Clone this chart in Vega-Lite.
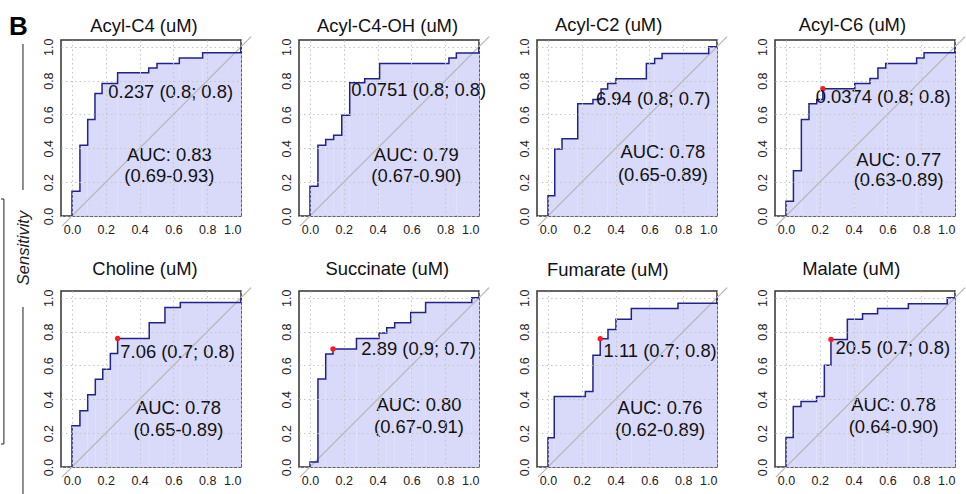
{
  "$schema": "https://vega.github.io/schema/vega-lite/v6.json",
  "background": "white",
  "padding": {"left": 0, "top": 13, "right": 0, "bottom": 0},
  "config": {
    "font": "Liberation Sans",
    "view": {"stroke": "#333333", "strokeWidth": 1.5},
    "concat": {"spacing": 4},
    "headerFacet": {"labels": false, "title": null, "labelPadding": 0, "labelFontSize": 1, "labelExpr": "''"}
  },
  "datasets": {
    "side": [
      {"k": "B", "x": 0.22, "y": -0.0102, "label": "B"},
      {"k": "S", "x": 0.63, "y": 0.4245, "label": "Sensitivity"},
      {"k": "r", "x": 0.61, "y": 0.0082, "x2": 0.61, "y2": 0.306},
      {"k": "r", "x": 0.61, "y": 0.545, "x2": 0.61, "y2": 0.95},
      {"k": "r", "x": 0.08, "y": 0.3245, "x2": 0.08, "y2": 0.8245},
      {"k": "r", "x": 0.0, "y": 0.3245, "x2": 0.08, "y2": 0.3245},
      {"k": "r", "x": 0.0, "y": 0.8245, "x2": 0.08, "y2": 0.8245}
    ],
    "roc": [
      {"p": "Acyl-C4 (uM)", "t": "c", "i": 0, "x": 0, "y": 0},
      {"p": "Acyl-C4 (uM)", "t": "c", "i": 1, "x": 0, "y": 0.146},
      {"p": "Acyl-C4 (uM)", "t": "c", "i": 2, "x": 0.047, "y": 0.418},
      {"p": "Acyl-C4 (uM)", "t": "c", "i": 3, "x": 0.093, "y": 0.57},
      {"p": "Acyl-C4 (uM)", "t": "c", "i": 4, "x": 0.136, "y": 0.724},
      {"p": "Acyl-C4 (uM)", "t": "c", "i": 5, "x": 0.178, "y": 0.783},
      {"p": "Acyl-C4 (uM)", "t": "c", "i": 6, "x": 0.27, "y": 0.846},
      {"p": "Acyl-C4 (uM)", "t": "c", "i": 7, "x": 0.454, "y": 0.874},
      {"p": "Acyl-C4 (uM)", "t": "c", "i": 8, "x": 0.503, "y": 0.901},
      {"p": "Acyl-C4 (uM)", "t": "c", "i": 9, "x": 0.635, "y": 0.933},
      {"p": "Acyl-C4 (uM)", "t": "c", "i": 10, "x": 0.773, "y": 0.964},
      {"p": "Acyl-C4 (uM)", "t": "c", "i": 11, "x": 1.0, "y": 1.0},

      {"p": "Acyl-C4-OH (uM)", "t": "c", "i": 0, "x": 0, "y": 0},
      {"p": "Acyl-C4-OH (uM)", "t": "c", "i": 1, "x": 0, "y": 0.176},
      {"p": "Acyl-C4-OH (uM)", "t": "c", "i": 2, "x": 0.047, "y": 0.418},
      {"p": "Acyl-C4-OH (uM)", "t": "c", "i": 3, "x": 0.093, "y": 0.452},
      {"p": "Acyl-C4-OH (uM)", "t": "c", "i": 4, "x": 0.14, "y": 0.477},
      {"p": "Acyl-C4-OH (uM)", "t": "c", "i": 5, "x": 0.188, "y": 0.596},
      {"p": "Acyl-C4-OH (uM)", "t": "c", "i": 6, "x": 0.235, "y": 0.787},
      {"p": "Acyl-C4-OH (uM)", "t": "c", "i": 7, "x": 0.324, "y": 0.811},
      {"p": "Acyl-C4-OH (uM)", "t": "c", "i": 8, "x": 0.412, "y": 0.901},
      {"p": "Acyl-C4-OH (uM)", "t": "c", "i": 9, "x": 0.822, "y": 0.933},
      {"p": "Acyl-C4-OH (uM)", "t": "c", "i": 10, "x": 0.866, "y": 0.963},
      {"p": "Acyl-C4-OH (uM)", "t": "c", "i": 11, "x": 1.0, "y": 1.0},

      {"p": "Acyl-C2 (uM)", "t": "c", "i": 0, "x": 0, "y": 0},
      {"p": "Acyl-C2 (uM)", "t": "c", "i": 1, "x": 0, "y": 0.12},
      {"p": "Acyl-C2 (uM)", "t": "c", "i": 2, "x": 0.04, "y": 0.396},
      {"p": "Acyl-C2 (uM)", "t": "c", "i": 3, "x": 0.083, "y": 0.456},
      {"p": "Acyl-C2 (uM)", "t": "c", "i": 4, "x": 0.176, "y": 0.663},
      {"p": "Acyl-C2 (uM)", "t": "c", "i": 5, "x": 0.266, "y": 0.688},
      {"p": "Acyl-C2 (uM)", "t": "c", "i": 6, "x": 0.314, "y": 0.751},
      {"p": "Acyl-C2 (uM)", "t": "c", "i": 7, "x": 0.353, "y": 0.783},
      {"p": "Acyl-C2 (uM)", "t": "c", "i": 8, "x": 0.402, "y": 0.811},
      {"p": "Acyl-C2 (uM)", "t": "c", "i": 9, "x": 0.582, "y": 0.901},
      {"p": "Acyl-C2 (uM)", "t": "c", "i": 10, "x": 0.631, "y": 0.931},
      {"p": "Acyl-C2 (uM)", "t": "c", "i": 11, "x": 0.675, "y": 0.96},
      {"p": "Acyl-C2 (uM)", "t": "c", "i": 12, "x": 0.951, "y": 1.0},
      {"p": "Acyl-C2 (uM)", "t": "c", "i": 13, "x": 1.0, "y": 1.0},

      {"p": "Acyl-C6 (uM)", "t": "c", "i": 0, "x": 0, "y": 0},
      {"p": "Acyl-C6 (uM)", "t": "c", "i": 1, "x": 0, "y": 0.087},
      {"p": "Acyl-C6 (uM)", "t": "c", "i": 2, "x": 0.044, "y": 0.268},
      {"p": "Acyl-C6 (uM)", "t": "c", "i": 3, "x": 0.091, "y": 0.57},
      {"p": "Acyl-C6 (uM)", "t": "c", "i": 4, "x": 0.136, "y": 0.663},
      {"p": "Acyl-C6 (uM)", "t": "c", "i": 5, "x": 0.182, "y": 0.688},
      {"p": "Acyl-C6 (uM)", "t": "c", "i": 6, "x": 0.218, "y": 0.752},
      {"p": "Acyl-C6 (uM)", "t": "c", "i": 7, "x": 0.407, "y": 0.783},
      {"p": "Acyl-C6 (uM)", "t": "c", "i": 8, "x": 0.497, "y": 0.812},
      {"p": "Acyl-C6 (uM)", "t": "c", "i": 9, "x": 0.544, "y": 0.874},
      {"p": "Acyl-C6 (uM)", "t": "c", "i": 10, "x": 0.59, "y": 0.901},
      {"p": "Acyl-C6 (uM)", "t": "c", "i": 11, "x": 0.773, "y": 0.933},
      {"p": "Acyl-C6 (uM)", "t": "c", "i": 12, "x": 0.817, "y": 0.964},
      {"p": "Acyl-C6 (uM)", "t": "c", "i": 13, "x": 1.0, "y": 1.0},

      {"p": "Choline (uM)", "t": "c", "i": 0, "x": 0, "y": 0},
      {"p": "Choline (uM)", "t": "c", "i": 1, "x": 0, "y": 0.244},
      {"p": "Choline (uM)", "t": "c", "i": 2, "x": 0.047, "y": 0.333},
      {"p": "Choline (uM)", "t": "c", "i": 3, "x": 0.093, "y": 0.427},
      {"p": "Choline (uM)", "t": "c", "i": 4, "x": 0.138, "y": 0.518},
      {"p": "Choline (uM)", "t": "c", "i": 5, "x": 0.182, "y": 0.577},
      {"p": "Choline (uM)", "t": "c", "i": 6, "x": 0.227, "y": 0.671},
      {"p": "Choline (uM)", "t": "c", "i": 7, "x": 0.27, "y": 0.76},
      {"p": "Choline (uM)", "t": "c", "i": 8, "x": 0.457, "y": 0.853},
      {"p": "Choline (uM)", "t": "c", "i": 9, "x": 0.55, "y": 0.942},
      {"p": "Choline (uM)", "t": "c", "i": 10, "x": 0.641, "y": 0.972},
      {"p": "Choline (uM)", "t": "c", "i": 11, "x": 1.0, "y": 1.0},

      {"p": "Succinate (uM)", "t": "c", "i": 0, "x": 0, "y": 0},
      {"p": "Succinate (uM)", "t": "c", "i": 1, "x": 0, "y": 0.03},
      {"p": "Succinate (uM)", "t": "c", "i": 2, "x": 0.047, "y": 0.52},
      {"p": "Succinate (uM)", "t": "c", "i": 3, "x": 0.093, "y": 0.668},
      {"p": "Succinate (uM)", "t": "c", "i": 4, "x": 0.136, "y": 0.698},
      {"p": "Succinate (uM)", "t": "c", "i": 5, "x": 0.275, "y": 0.76},
      {"p": "Succinate (uM)", "t": "c", "i": 6, "x": 0.408, "y": 0.792},
      {"p": "Succinate (uM)", "t": "c", "i": 7, "x": 0.454, "y": 0.823},
      {"p": "Succinate (uM)", "t": "c", "i": 8, "x": 0.501, "y": 0.853},
      {"p": "Succinate (uM)", "t": "c", "i": 9, "x": 0.596, "y": 0.913},
      {"p": "Succinate (uM)", "t": "c", "i": 10, "x": 0.684, "y": 0.972},
      {"p": "Succinate (uM)", "t": "c", "i": 11, "x": 0.957, "y": 1.0},
      {"p": "Succinate (uM)", "t": "c", "i": 12, "x": 1.0, "y": 1.0},

      {"p": "Fumarate (uM)", "t": "c", "i": 0, "x": 0, "y": 0},
      {"p": "Fumarate (uM)", "t": "c", "i": 1, "x": 0, "y": 0.173},
      {"p": "Fumarate (uM)", "t": "c", "i": 2, "x": 0.037, "y": 0.417},
      {"p": "Fumarate (uM)", "t": "c", "i": 3, "x": 0.221, "y": 0.446},
      {"p": "Fumarate (uM)", "t": "c", "i": 4, "x": 0.266, "y": 0.661},
      {"p": "Fumarate (uM)", "t": "c", "i": 5, "x": 0.309, "y": 0.758},
      {"p": "Fumarate (uM)", "t": "c", "i": 6, "x": 0.355, "y": 0.813},
      {"p": "Fumarate (uM)", "t": "c", "i": 7, "x": 0.402, "y": 0.873},
      {"p": "Fumarate (uM)", "t": "c", "i": 8, "x": 0.493, "y": 0.936},
      {"p": "Fumarate (uM)", "t": "c", "i": 9, "x": 0.769, "y": 0.968},
      {"p": "Fumarate (uM)", "t": "c", "i": 10, "x": 1.0, "y": 1.0},

      {"p": "Malate (uM)", "t": "c", "i": 0, "x": 0, "y": 0},
      {"p": "Malate (uM)", "t": "c", "i": 1, "x": 0, "y": 0.175},
      {"p": "Malate (uM)", "t": "c", "i": 2, "x": 0.043, "y": 0.357},
      {"p": "Malate (uM)", "t": "c", "i": 3, "x": 0.089, "y": 0.387},
      {"p": "Malate (uM)", "t": "c", "i": 4, "x": 0.181, "y": 0.417},
      {"p": "Malate (uM)", "t": "c", "i": 5, "x": 0.227, "y": 0.601},
      {"p": "Malate (uM)", "t": "c", "i": 6, "x": 0.266, "y": 0.754},
      {"p": "Malate (uM)", "t": "c", "i": 7, "x": 0.363, "y": 0.873},
      {"p": "Malate (uM)", "t": "c", "i": 8, "x": 0.453, "y": 0.906},
      {"p": "Malate (uM)", "t": "c", "i": 9, "x": 0.542, "y": 0.936},
      {"p": "Malate (uM)", "t": "c", "i": 10, "x": 0.724, "y": 0.965},
      {"p": "Malate (uM)", "t": "c", "i": 11, "x": 0.954, "y": 1.0},
      {"p": "Malate (uM)", "t": "c", "i": 12, "x": 1.0, "y": 1.0},

      {"p": "Acyl-C4 (uM)", "t": "d", "x": -0.06, "y": -0.06, "x2": 1.06, "y2": 1.06},
      {"p": "Acyl-C4-OH (uM)", "t": "d", "x": -0.06, "y": -0.06, "x2": 1.06, "y2": 1.06},
      {"p": "Acyl-C2 (uM)", "t": "d", "x": -0.06, "y": -0.06, "x2": 1.06, "y2": 1.06},
      {"p": "Acyl-C6 (uM)", "t": "d", "x": -0.06, "y": -0.06, "x2": 1.06, "y2": 1.06},
      {"p": "Choline (uM)", "t": "d", "x": -0.06, "y": -0.06, "x2": 1.06, "y2": 1.06},
      {"p": "Succinate (uM)", "t": "d", "x": -0.06, "y": -0.06, "x2": 1.06, "y2": 1.06},
      {"p": "Fumarate (uM)", "t": "d", "x": -0.06, "y": -0.06, "x2": 1.06, "y2": 1.06},
      {"p": "Malate (uM)", "t": "d", "x": -0.06, "y": -0.06, "x2": 1.06, "y2": 1.06},

      {"p": "Acyl-C6 (uM)", "t": "o", "x": 0.218, "y": 0.752},
      {"p": "Choline (uM)", "t": "o", "x": 0.27, "y": 0.76},
      {"p": "Succinate (uM)", "t": "o", "x": 0.136, "y": 0.698},
      {"p": "Fumarate (uM)", "t": "o", "x": 0.309, "y": 0.758},
      {"p": "Malate (uM)", "t": "o", "x": 0.266, "y": 0.754},

      {"p": "Acyl-C4 (uM)", "t": "ti", "x": 0.426, "y": 1.089, "label": "Acyl-C4 (uM)"},
      {"p": "Acyl-C4-OH (uM)", "t": "ti", "x": 0.459, "y": 1.089, "label": "Acyl-C4-OH (uM)"},
      {"p": "Acyl-C2 (uM)", "t": "ti", "x": 0.359, "y": 1.095, "label": "Acyl-C2 (uM)"},
      {"p": "Acyl-C6 (uM)", "t": "ti", "x": 0.393, "y": 1.095, "label": "Acyl-C6 (uM)"},
      {"p": "Choline (uM)", "t": "ti", "x": 0.432, "y": 1.137, "label": "Choline (uM)"},
      {"p": "Succinate (uM)", "t": "ti", "x": 0.458, "y": 1.137, "label": "Succinate (uM)"},
      {"p": "Fumarate (uM)", "t": "ti", "x": 0.354, "y": 1.131, "label": "Fumarate (uM)"},
      {"p": "Malate (uM)", "t": "ti", "x": 0.386, "y": 1.137, "label": "Malate (uM)"},

      {"p": "Acyl-C4 (uM)", "t": "th", "x": 0.215, "y": 0.732, "label": "0.237 (0.8; 0.8)"},
      {"p": "Acyl-C4-OH (uM)", "t": "th", "x": 0.244, "y": 0.744, "label": "0.0751 (0.8; 0.8)"},
      {"p": "Acyl-C2 (uM)", "t": "th", "x": 0.284, "y": 0.694, "label": "6.94 (0.8; 0.7)"},
      {"p": "Acyl-C6 (uM)", "t": "th", "x": 0.176, "y": 0.702, "label": "0.0374 (0.8; 0.8)"},
      {"p": "Choline (uM)", "t": "th", "x": 0.286, "y": 0.68, "label": "7.06 (0.7; 0.8)"},
      {"p": "Succinate (uM)", "t": "th", "x": 0.304, "y": 0.698, "label": "2.89 (0.9; 0.7)"},
      {"p": "Fumarate (uM)", "t": "th", "x": 0.329, "y": 0.685, "label": "1.11 (0.7; 0.8)"},
      {"p": "Malate (uM)", "t": "th", "x": 0.293, "y": 0.704, "label": "20.5 (0.7; 0.8)"},

      {"p": "Acyl-C4 (uM)", "t": "a", "x": 0.576, "y": 0.363, "label": "AUC: 0.83"},
      {"p": "Acyl-C4 (uM)", "t": "a", "x": 0.576, "y": 0.235, "label": "(0.69-0.93)"},
      {"p": "Acyl-C4-OH (uM)", "t": "a", "x": 0.629, "y": 0.363, "label": "AUC: 0.79"},
      {"p": "Acyl-C4-OH (uM)", "t": "a", "x": 0.629, "y": 0.235, "label": "(0.67-0.90)"},
      {"p": "Acyl-C2 (uM)", "t": "a", "x": 0.68, "y": 0.377, "label": "AUC: 0.78"},
      {"p": "Acyl-C2 (uM)", "t": "a", "x": 0.68, "y": 0.244, "label": "(0.65-0.89)"},
      {"p": "Acyl-C6 (uM)", "t": "a", "x": 0.667, "y": 0.333, "label": "AUC: 0.77"},
      {"p": "Acyl-C6 (uM)", "t": "a", "x": 0.667, "y": 0.215, "label": "(0.63-0.89)"},
      {"p": "Choline (uM)", "t": "a", "x": 0.63, "y": 0.347, "label": "AUC: 0.78"},
      {"p": "Choline (uM)", "t": "a", "x": 0.63, "y": 0.218, "label": "(0.65-0.89)"},
      {"p": "Succinate (uM)", "t": "a", "x": 0.645, "y": 0.367, "label": "AUC: 0.80"},
      {"p": "Succinate (uM)", "t": "a", "x": 0.645, "y": 0.238, "label": "(0.67-0.91)"},
      {"p": "Fumarate (uM)", "t": "a", "x": 0.663, "y": 0.347, "label": "AUC: 0.76"},
      {"p": "Fumarate (uM)", "t": "a", "x": 0.663, "y": 0.218, "label": "(0.62-0.89)"},
      {"p": "Malate (uM)", "t": "a", "x": 0.637, "y": 0.367, "label": "AUC: 0.78"},
      {"p": "Malate (uM)", "t": "a", "x": 0.637, "y": 0.238, "label": "(0.64-0.90)"}
    ]
  },
  "hconcat": [
    {
      "width": 36,
      "height": 490,
      "view": {"stroke": null},
      "data": {"name": "side"},
      "layer": [
        {
          "transform": [{"filter": "datum.k === 'r'"}],
          "mark": {"type": "rule", "color": "#444444", "strokeWidth": 1.2},
          "encoding": {
            "x": {"field": "x", "type": "quantitative", "scale": {"domain": [0, 1]}, "axis": null},
            "y": {"field": "y", "type": "quantitative", "scale": {"domain": [0, 1], "reverse": true}, "axis": null},
            "x2": {"field": "x2"},
            "y2": {"field": "y2"}
          }
        },
        {
          "transform": [{"filter": "datum.k === 'B'"}],
          "mark": {"type": "text", "fontSize": 26, "fontWeight": "bold", "align": "left", "baseline": "alphabetic", "color": "#000000"},
          "encoding": {
            "x": {"field": "x", "type": "quantitative"},
            "y": {"field": "y", "type": "quantitative"},
            "text": {"field": "label"}
          }
        },
        {
          "transform": [{"filter": "datum.k === 'S'"}],
          "mark": {"type": "text", "fontSize": 16.5, "fontStyle": "italic", "angle": 270, "align": "center", "baseline": "middle", "color": "#222222"},
          "encoding": {
            "x": {"field": "x", "type": "quantitative"},
            "y": {"field": "y", "type": "quantitative"},
            "text": {"field": "label"}
          }
        }
      ]
    },
    {
      "data": {"name": "roc"},
      "facet": {
        "field": "p",
        "type": "nominal",
        "sort": ["Acyl-C4 (uM)", "Acyl-C4-OH (uM)", "Acyl-C2 (uM)", "Acyl-C6 (uM)", "Choline (uM)", "Succinate (uM)", "Fumarate (uM)", "Malate (uM)"],
        "header": {"labels": false, "title": null, "labelPadding": 0, "labelFontSize": 1, "labelExpr": "''"}
      },
      "columns": 4,
      "bounds": "flush",
      "spacing": {"column": 58, "row": 75},
      "resolve": {"axis": {"x": "independent", "y": "independent"}},
      "spec": {
        "width": 180,
        "height": 176,
        "encoding": {
          "x": {
            "field": "x", "type": "quantitative",
            "scale": {"domain": [-0.065, 1.0], "nice": false, "zero": false},
            "axis": {"title": null, "values": [0, 0.2, 0.4, 0.6, 0.8, 1.0], "format": ".1f", "ticks": false, "domain": false,
                     "labelFontSize": 12.5, "labelColor": "#222222", "labelPadding": 7,
                     "grid": true, "gridColor": "#c4c4c4", "gridDash": [1.5, 3], "gridWidth": 1, "zindex": 1}
          },
          "y": {
            "field": "y", "type": "quantitative",
            "scale": {"domain": [0, 1.04], "nice": false, "zero": false},
            "axis": {"title": null, "values": [0, 0.2, 0.4, 0.6, 0.8, 1.0], "format": ".1f", "ticks": false, "domain": false,
                     "labelFontSize": 12.5, "labelColor": "#222222", "labelPadding": 6, "labelAngle": -90,
                     "labelAlign": "center", "labelBaseline": "bottom",
                     "grid": true, "gridColor": "#c4c4c4", "gridDash": [1.5, 3], "gridWidth": 1, "zindex": 1}
          }
        },
        "layer": [
          {
            "transform": [{"filter": "datum.t === 'c'"}],
            "mark": {"type": "area", "interpolate": "step-after", "color": "#d9d9fa", "opacity": 1},
            "encoding": {"order": {"field": "i", "type": "quantitative"}}
          },
          {
            "transform": [{"filter": "datum.t === 'd'"}],
            "mark": {"type": "rule", "color": "#b4b4b4", "strokeWidth": 1.2},
            "encoding": {"x2": {"field": "x2"}, "y2": {"field": "y2"}}
          },
          {
            "transform": [{"filter": "datum.t === 'c'"}],
            "mark": {"type": "line", "interpolate": "step-after", "color": "#22228c", "strokeWidth": 1.5},
            "encoding": {"order": {"field": "i", "type": "quantitative"}}
          },
          {
            "transform": [{"filter": "datum.t === 'o'"}],
            "mark": {"type": "circle", "color": "#ff1a1a", "size": 28, "opacity": 1}
          },
          {
            "transform": [{"filter": "datum.t === 'ti'"}],
            "mark": {"type": "text", "fontSize": 18.4, "align": "center", "baseline": "alphabetic", "color": "#111111"},
            "encoding": {"text": {"field": "label"}}
          },
          {
            "transform": [{"filter": "datum.t === 'th'"}],
            "mark": {"type": "text", "fontSize": 18.4, "align": "left", "baseline": "middle", "color": "#111111"},
            "encoding": {"text": {"field": "label"}}
          },
          {
            "transform": [{"filter": "datum.t === 'a'"}],
            "mark": {"type": "text", "fontSize": 18.4, "align": "center", "baseline": "middle", "color": "#111111"},
            "encoding": {"text": {"field": "label"}}
          }
        ]
      }
    }
  ]
}
